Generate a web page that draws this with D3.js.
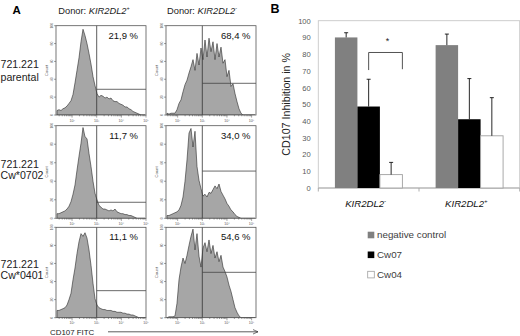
<!DOCTYPE html>
<html><head><meta charset="utf-8">
<script src="https://cdn.jsdelivr.net/npm/d3@7"></script>
<style>
body{margin:0;background:#fff}
svg{display:block;font-family:"Liberation Sans",Arial,sans-serif}
</style></head>
<body><svg id="c" width="520" height="336"></svg>
<script>
// ---------- Panel B data ----------
const groups = ["KIR2DL2-", "KIR2DL2+"];
const series = ["negative control", "Cw07", "Cw04"];
const inhibitionKIRneg = [90, 48.7, 8];
const inhibitionKIRpos = [85.4, 41.1, 31.2];
const errorKIRneg = [2.8, 16.3, 7.3];
const errorKIRpos = [6.6, 24.3, 22.8];
const yTicksB = [0, 10, 20, 30, 40, 50, 60, 70, 80, 90, 100];
const bracketLevels = [70.5, 81, 71]; // left foot, top, right foot
const starLevel = 89;

// ---------- Panel A data ----------
const donors = ["KIR2DL2+", "KIR2DL2-"];
const rowLabels = [["721.221", "parental"], ["721.221", "Cw*0702"], ["721.221", "Cw*0401"]];
const percentLabels = [["21,9 %", "68,4 %"], ["11,7 %", "34,0 %"], ["11,1 %", "54,6 %"]];
const gateLevels = [[28.8, 35.5], [17.3, 51], [29.9, 50.2]];
const histParentalPos = [5,6,5,7,8,10,13,16,23,36,50,64,82,96,89,80,69,57,43,33,24,20,22,21,19,20,18,19,16,15,15,13,12,11,9,9,7,6,4,3,2,1,0,0,0];
const histParentalNeg = [2,1,2,2,2,6,13,17,26,34,39,47,54,62,50,69,56,75,62,84,65,86,71,82,62,80,65,76,58,62,43,50,32,35,24,15,7,2,0,0,0,0,0,0,0];
const histCw0702Pos = [5,5,6,7,8,10,13,18,26,36,52,67,81,98,88,86,70,56,40,27,20,14,12,10,10,9,8,9,8,10,7,6,5,5,4,4,3,3,2,1,0,0,0,0,0];
const histCw0702Neg = [3,3,4,5,6,7,9,14,23,40,63,92,97,77,94,56,41,32,24,26,23,28,27,31,35,32,37,29,25,21,16,13,9,7,4,2,1,0,0,0,0,0,0,0,0];
const histCw0401Pos = [8,8,9,10,11,14,20,27,42,55,71,84,93,90,94,88,75,58,38,21,14,11,10,9,9,8,8,8,7,7,6,6,6,5,5,4,4,3,3,2,1,0,0,0,0];
const histCw0401Neg = [0,1,1,1,2,16,42,56,66,60,69,80,90,98,75,93,68,56,77,83,73,86,71,80,66,73,62,69,56,51,45,36,29,20,11,6,2,0,0,0,0,0,0,0,0];
const histograms = [[histParentalPos, histParentalNeg], [histCw0702Pos, histCw0702Neg], [histCw0401Pos, histCw0401Neg]];
const countTicks = [0, 20, 40, 60, 80, 100];
const xAxisTitle = "CD107 FITC";

// ---------- layout ----------
const svg = d3.select("#c");
const colX = [[56, 146], [166, 256]];
const colLog = [[1.349, 5.0], [1.527, 5.178]];
const rowY = [[25.7, 115], [125.7, 218.3], [227.3, 317.7]];
const rowLabelBase = [[68.3, 80.5], [168, 178.5], [268, 278.5]];
const defs = svg.append("defs");
defs.append("marker").attr("id", "arr").attr("viewBox", "0 0 10 10").attr("refX", 9).attr("refY", 5)
  .attr("markerWidth", 7).attr("markerHeight", 7).attr("orient", "auto")
  .append("path").attr("d", "M0,1 L9,5 L0,9").attr("fill", "none").attr("stroke", "#333").attr("stroke-width", 1.2);

svg.append("text").attr("x", 12.5).attr("y", 13.5).attr("font-size", 11.5).attr("font-weight", "bold").text("A");
svg.append("text").attr("x", 270.5).attr("y", 12.8).attr("font-size", 12.5).attr("font-weight", "bold").text("B");

const headerX = [58.3, 167];
donors.forEach((d, c) => {
  const t = svg.append("text").attr("x", headerX[c]).attr("y", 13.5).attr("font-size", 9.3).attr("fill", "#222");
  t.append("tspan").text("Donor: ");
  t.append("tspan").attr("font-style", "italic").text(d.slice(0, -1));
  t.append("tspan").attr("font-size", 5.5).attr("dy", -3.5).text(d.slice(-1));
});

rowLabels.forEach((lines, r) => {
  lines.forEach((s, k) => {
    svg.append("text").attr("x", 0.5).attr("y", rowLabelBase[r][k]).attr("font-size", 10.6).attr("fill", "#222").text(s);
  });
});

const sup = {1: "¹", 2: "²", 3: "³", 4: "⁴", 5: "⁵"};
histograms.forEach((rowH, r) => {
  rowH.forEach((h, c) => {
    const [xa, xb] = colX[c], [yt, yb] = rowY[r], [lo, hi] = colLog[c];
    const x = d3.scaleLog().domain([10 ** lo, 10 ** hi]).range([xa, xb]);
    const y = d3.scaleLinear().domain([0, 100]).range([yb, yt]);
    const step = (hi - lo) / h.length;
    const pts = h.map((v, i) => ({p: 10 ** (lo + (i + 0.5) * step), v}));
    const clipId = `clip${r}${c}`;
    defs.append("clipPath").attr("id", clipId).append("rect").attr("x", xa).attr("y", yt).attr("width", xb - xa).attr("height", yb - yt);
    const g = svg.append("g");
    g.append("path").datum(pts).attr("clip-path", `url(#${clipId})`)
      .attr("d", d3.area().x(d => x(d.p)).y0(yb).y1(d => y(d.v)))
      .attr("fill", "#a6a6a6").attr("stroke", "#2a2a2a").attr("stroke-width", 0.6);
    // gate
    g.append("line").attr("x1", x(1000)).attr("x2", x(1000)).attr("y1", yt).attr("y2", yb).attr("stroke", "#333").attr("stroke-width", 0.8);
    g.append("line").attr("x1", x(1000)).attr("x2", xb).attr("y1", y(gateLevels[r][c])).attr("y2", y(gateLevels[r][c])).attr("stroke", "#444").attr("stroke-width", 0.8);
    g.append("rect").attr("x", xa).attr("y", yt).attr("width", xb - xa).attr("height", yb - yt)
      .attr("fill", "none").attr("stroke", "#555").attr("stroke-width", 0.8);
    // log ticks
    for (let d = 1; d <= 5; d++) {
      for (let k = 1; k <= 9; k++) {
        const v = k * 10 ** d;
        if (v < 10 ** lo - 1e-6 || v > 10 ** hi + 1e-6) continue;
        g.append("line").attr("x1", x(v)).attr("x2", x(v)).attr("y1", yb).attr("y2", yb + (k === 1 ? 2.6 : 1.3))
          .attr("stroke", "#444").attr("stroke-width", 0.5);
        if (k === 1 && d >= 2) g.append("text").attr("x", x(v)).attr("y", yb + 6.5).attr("text-anchor", "middle")
          .attr("font-size", 3.6).attr("fill", "#555").text("10" + sup[d]);
      }
    }
    // count ticks
    countTicks.forEach(v => {
      g.append("line").attr("x1", xa).attr("x2", xa - 2).attr("y1", y(v)).attr("y2", y(v)).attr("stroke", "#444").attr("stroke-width", 0.5);
      g.append("text").attr("transform", `translate(${xa - 3},${y(v)}) rotate(-90)`).attr("text-anchor", "middle")
        .attr("font-size", 3.4).attr("fill", "#666").text(v);
    });
    g.append("text").attr("transform", `translate(${xa - 8},${(yt + yb) / 2}) rotate(-90)`).attr("text-anchor", "middle")
      .attr("font-size", 4.2).attr("fill", "#555").text("Count");
    g.append("text").attr("x", xb - (c === 0 ? 8 : 5.5)).attr("y", yt + 13).attr("text-anchor", "end")
      .attr("font-size", 9.5).attr("fill", "#111").text(percentLabels[r][c]);
  });
});

svg.append("text").attr("x", 50).attr("y", 334.5).attr("font-size", 7.9).attr("fill", "#222").text(xAxisTitle);
svg.append("line").attr("x1", 108).attr("x2", 258).attr("y1", 331.8).attr("y2", 331.8)
  .attr("stroke", "#333").attr("stroke-width", 0.8).attr("marker-end", "url(#arr)");

// ---------- Panel B ----------
const x0 = d3.scaleBand().domain(groups).range([318.3, 519.7]).paddingInner(0.33).paddingOuter(0.165);
const x1 = d3.scaleBand().domain(series).range([0, x0.bandwidth()]);
const yB = d3.scaleLinear().domain([0, 100]).range([188, 20.7]);
const colors = d3.scaleOrdinal().domain(series).range(["#808080", "#000000", "#ffffff"]);
const values = [inhibitionKIRneg, inhibitionKIRpos];
const errors = [errorKIRneg, errorKIRpos];

svg.append("rect").attr("x", x0.range()[0]).attr("y", yB(100)).attr("width", x0.range()[1] - x0.range()[0])
  .attr("height", yB(0) - yB(100)).attr("fill", "none").attr("stroke", "#c8c8c8").attr("stroke-width", 0.9);

const yAx = svg.append("g").attr("transform", `translate(${x0.range()[0]},0)`)
  .call(d3.axisLeft(yB).tickValues(yTicksB).tickSize(0).tickPadding(7.5));
yAx.select(".domain").remove();
yAx.selectAll("text").attr("font-size", 7.6).attr("fill", "#595959").attr("font-family", "Liberation Sans, Arial, sans-serif");

// bottom axis
const bAx = svg.append("g");
bAx.append("line").attr("x1", x0.range()[0]).attr("x2", x0.range()[1]).attr("y1", yB(0)).attr("y2", yB(0)).attr("stroke", "#a6a6a6").attr("stroke-width", 0.9);
const bounds = [x0.range()[0], x0(groups[1]) - x0.step() * x0.paddingInner() / 2, x0.range()[1]];
bounds.forEach(b => bAx.append("line").attr("x1", b).attr("x2", b).attr("y1", yB(0)).attr("y2", yB(0) + 3.5).attr("stroke", "#a6a6a6").attr("stroke-width", 0.9));

groups.forEach((gname, gi) => {
  series.forEach((s, si) => {
    const v = values[gi][si], e = errors[gi][si];
    const bx = x0(gname) + x1(s), bw = x1.bandwidth(), cx = bx + bw / 2;
    svg.append("rect").attr("x", bx).attr("y", yB(v)).attr("width", bw).attr("height", yB(0) - yB(v))
      .attr("fill", colors(s)).attr("stroke", si === 2 ? "#a0a0a0" : "none").attr("stroke-width", 0.9);
    svg.append("line").attr("x1", cx).attr("x2", cx).attr("y1", yB(v)).attr("y2", yB(v + e)).attr("stroke", "#111").attr("stroke-width", 0.9);
    svg.append("line").attr("x1", cx - 2).attr("x2", cx + 2).attr("y1", yB(v + e)).attr("y2", yB(v + e)).attr("stroke", "#111").attr("stroke-width", 0.9);
  });
  const t = svg.append("text").attr("x", x0(gname) + x0.bandwidth() / 2 - 3).attr("y", 206.5)
    .attr("text-anchor", "middle").attr("font-size", 9.6).attr("font-style", "italic").attr("fill", "#111");
  t.append("tspan").text(gname.slice(0, -1));
  t.append("tspan").attr("font-size", 6).attr("dy", -3.6).text(gname.slice(-1));
});

// significance bracket
const bl = x0(groups[0]) + x1(series[1]) + x1.bandwidth() / 2;
const br = x0(groups[0]) + x1(series[2]) + x1.bandwidth();
svg.append("path").attr("d", `M${bl},${yB(bracketLevels[0])}V${yB(bracketLevels[1])}H${br}V${yB(bracketLevels[2])}`)
  .attr("fill", "none").attr("stroke", "#404040").attr("stroke-width", 0.9);
svg.append("text").attr("x", (bl + br) / 2 + 2).attr("y", yB(starLevel) + 5).attr("text-anchor", "middle")
  .attr("font-size", 9).attr("fill", "#222").text("*");

// y title
svg.append("text").attr("transform", `translate(286,${(yB(0) + yB(100)) / 2}) rotate(-90)`)
  .attr("text-anchor", "middle").attr("dominant-baseline", "central").attr("font-size", 10.7).attr("fill", "#222")
  .text("CD107 Inhibition in %");

// legend
const leg = svg.append("g");
series.forEach((s, i) => {
  const ty = 231.7 + i * 19.8;
  leg.append("rect").attr("x", 367.7).attr("y", ty).attr("width", 6.6).attr("height", 6.6)
    .attr("fill", colors(s)).attr("stroke", i === 2 ? "#a0a0a0" : "none").attr("stroke-width", 0.8);
  leg.append("text").attr("x", 377).attr("y", ty + 6.4).attr("font-size", 9.8).attr("fill", "#404040").text(s);
});
</script></body></html>
